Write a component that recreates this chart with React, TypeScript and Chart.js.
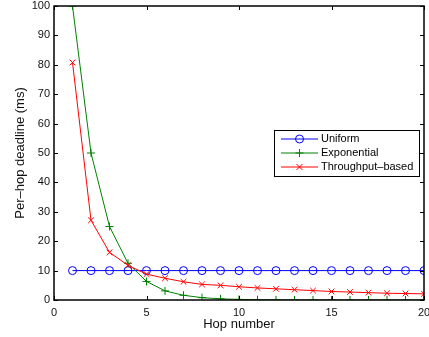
import React, { useEffect, useRef } from "react";
import { Chart, registerables } from "chart.js";

Chart.register(...registerables);

const hops = [1, 2, 3, 4, 5, 6, 7, 8, 9, 10, 11, 12, 13, 14, 15, 16, 17, 18, 19, 20];
const uniform = [10, 10, 10, 10, 10, 10, 10, 10, 10, 10, 10, 10, 10, 10, 10, 10, 10, 10, 10, 10];
const exponential = [100, 50, 25, 12.5, 6.3, 3.1, 1.6, 0.8, 0.4, 0.2, 0.1, 0.05, 0.02, 0.01, 0.01, 0, 0, 0, 0, 0];
const throughput = [80.8, 27.1, 16.2, 11.8, 8.8, 7.4, 6.2, 5.3, 5.0, 4.5, 4.1, 3.8, 3.5, 3.2, 2.9, 2.7, 2.5, 2.3, 2.2, 2.1];
const seriesLabels = ["Uniform", "Exponential", "Throughput\u2013based"];
const seriesColors = ["#0000ff", "#008000", "#ff0000"];
const seriesStyles = ["circle", "cross", "crossRot"];
const xTitle = "Hop number";
const yTitle = "Per\u2013hop deadline (ms)";

const FONT = "'Liberation Sans', Arial, Helvetica, sans-serif";

function drawMarker(ctx: CanvasRenderingContext2D, style: string, x: number, y: number, r: number) {
  ctx.beginPath();
  if (style === "circle") {
    ctx.arc(x, y, r, 0, Math.PI * 2);
  } else if (style === "cross") {
    ctx.moveTo(x - r, y);
    ctx.lineTo(x + r, y);
    ctx.moveTo(x, y - r);
    ctx.lineTo(x, y + r);
  } else {
    const d = r * 0.75;
    ctx.moveTo(x - d, y - d);
    ctx.lineTo(x + d, y + d);
    ctx.moveTo(x + d, y - d);
    ctx.lineTo(x - d, y + d);
  }
  ctx.stroke();
}

const framePlugin = {
  id: "frame",
  afterDraw(chart: any) {
    const { ctx, chartArea } = chart;
    const { left, right, top, bottom } = chartArea;
    ctx.save();
    ctx.strokeStyle = "#000";
    ctx.lineWidth = 1;
    const tl = 4;
    ctx.beginPath();
    for (const t of chart.scales.x.ticks) {
      const px = Math.round(chart.scales.x.getPixelForValue(t.value)) + 0.5;
      ctx.moveTo(px, bottom);
      ctx.lineTo(px, bottom - tl);
      ctx.moveTo(px, top);
      ctx.lineTo(px, top + tl);
    }
    for (const t of chart.scales.y.ticks) {
      const py = Math.round(chart.scales.y.getPixelForValue(t.value)) + 0.5;
      ctx.moveTo(left, py);
      ctx.lineTo(left + tl, py);
      ctx.moveTo(right, py);
      ctx.lineTo(right - tl, py);
    }
    ctx.stroke();
    ctx.lineWidth = 1.5;
    ctx.strokeRect(left, top, right - left, bottom - top);

    // legend
    const bw = 145, bh = 46;
    const bx = right - 5 - bw;
    const by = top + 124;
    ctx.fillStyle = "#fff";
    ctx.fillRect(bx, by, bw, bh);
    ctx.lineWidth = 1;
    ctx.strokeStyle = "#000";
    ctx.strokeRect(bx + 0.5, by + 0.5, bw, bh);
    ctx.font = "11px " + FONT;
    ctx.textBaseline = "middle";
    ctx.textAlign = "left";
    for (let i = 0; i < seriesLabels.length; i++) {
      const y = by + 9 + i * 14;
      ctx.strokeStyle = seriesColors[i];
      ctx.lineWidth = 1;
      ctx.beginPath();
      ctx.moveTo(bx + 7, y);
      ctx.lineTo(bx + 44, y);
      ctx.stroke();
      ctx.strokeStyle = seriesColors[i];
      drawMarker(ctx, seriesStyles[i], bx + 25.5, y, 4);
      ctx.fillStyle = "#000";
      ctx.fillText(seriesLabels[i], bx + 47, y);
    }
    ctx.restore();
  },
};

export default function App() {
  const ref = useRef<HTMLCanvasElement>(null);
  useEffect(() => {
    document.body.style.margin = "0";
    const canvas = ref.current!;
    const series = [uniform, exponential, throughput];
    const orders = [2, 1, 0];
    const datasets = series.map((data, k) => ({
      label: seriesLabels[k],
      data: hops.map((h, i) => ({ x: h, y: data[i] })),
      borderColor: seriesColors[k],
      backgroundColor: "rgba(0,0,0,0)",
      pointBorderColor: seriesColors[k],
      pointBackgroundColor: "rgba(0,0,0,0)",
      pointStyle: seriesStyles[k],
      pointRadius: 4,
      pointBorderWidth: 1,
      borderWidth: 1,
      tension: 0,
      fill: false,
      clip: 0,
      order: orders[k],
    }));
    const chart = new Chart(canvas, {
      type: "line",
      data: { datasets: datasets as any },
      options: {
        animation: false,
        responsive: false,
        devicePixelRatio: 1,
        layout: { padding: { top: 6, right: 3, left: 0, bottom: 0 } },
        plugins: { legend: { display: false }, tooltip: { enabled: false } },
        scales: {
          x: {
            type: "linear",
            min: 0,
            max: 20,
            ticks: { stepSize: 5, padding: 6, color: "#111", font: { size: 11, family: FONT }, maxRotation: 0 },
            grid: { display: false, drawTicks: false },
            border: { display: false },
            title: { display: true, text: xTitle, color: "#111", font: { size: 13, family: FONT }, padding: { top: 0, bottom: 5 } },
            afterFit: (s: any) => {
              s.height = 37;
              s.paddingLeft = 0;
              s.paddingRight = 0;
            },
          },
          y: {
            type: "linear",
            min: 0,
            max: 100,
            ticks: { stepSize: 10, padding: 4, color: "#111", font: { size: 11, family: FONT } },
            grid: { display: false, drawTicks: false },
            border: { display: false },
            title: { display: true, text: yTitle, color: "#111", font: { size: 13, family: FONT }, padding: { top: 13, bottom: 0 } },
            afterFit: (s: any) => {
              s.width = 54;
              s.paddingTop = 0;
              s.paddingBottom = 0;
            },
          },
        },
      } as any,
      plugins: [framePlugin],
    });
    return () => chart.destroy();
  }, []);
  return (
    <div style={{ width: 429, height: 337 }}>
      <canvas ref={ref} width={429} height={337} />
    </div>
  );
}
